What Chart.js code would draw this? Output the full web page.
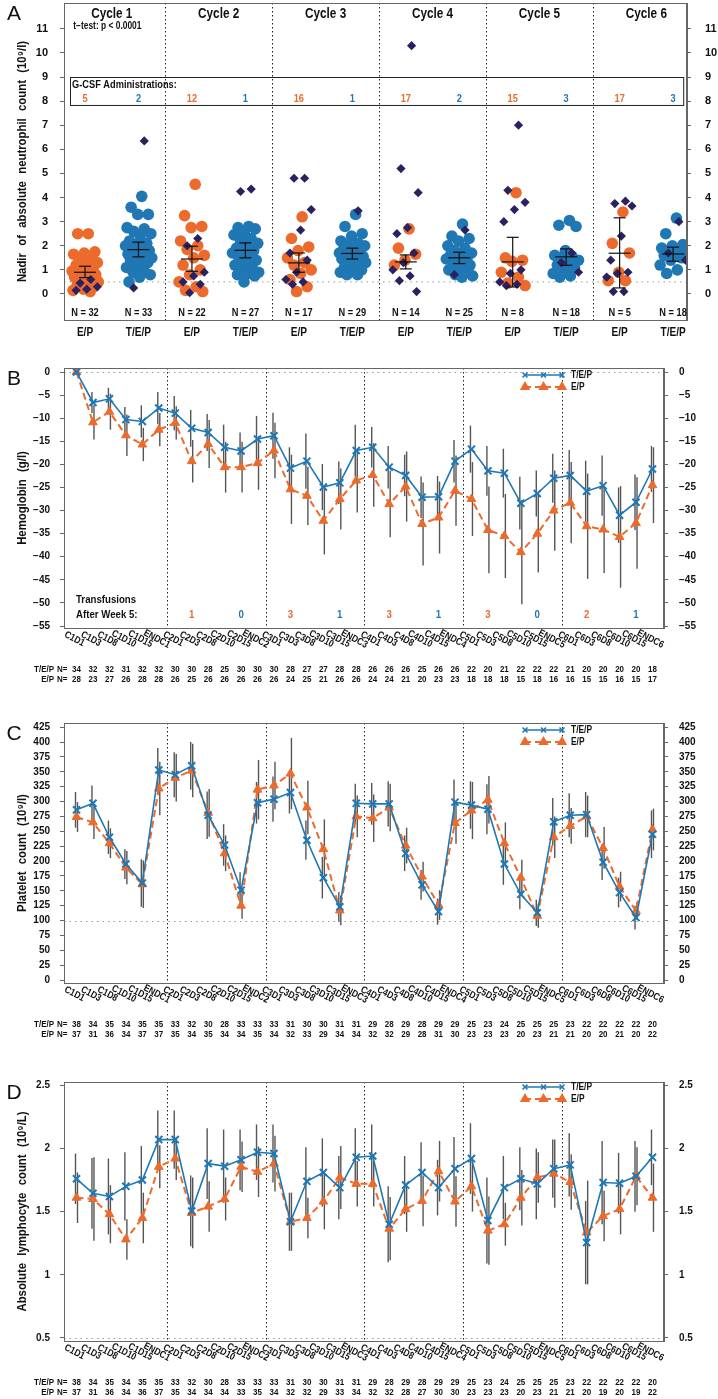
<!DOCTYPE html>
<html>
<head>
<meta charset="utf-8">
<script src="https://cdn.jsdelivr.net/npm/chart.js@4.4.0/dist/chart.umd.min.js"></script>
<style>
  body { margin: 0; background: #fff; width: 718px; height: 1399px; position: relative; overflow: hidden; }
  canvas { position: absolute; left: 0; }
</style>
</head>
<body>
<canvas id="panelA" width="718" height="345" style="top:0px"></canvas>
<canvas id="panelB" width="718" height="345" style="top:345px"></canvas>
<canvas id="panelC" width="718" height="355" style="top:690px"></canvas>
<canvas id="panelD" width="718" height="354" style="top:1045px"></canvas>
<script>
// ---------- panel A: neutrophil nadir ----------
const cycleLabels = ['Cycle 1', 'Cycle 2', 'Cycle 3', 'Cycle 4', 'Cycle 5', 'Cycle 6'];
const groupLabels = ['E/P', 'T/E/P', 'E/P', 'T/E/P', 'E/P', 'T/E/P', 'E/P', 'T/E/P', 'E/P', 'T/E/P', 'E/P', 'T/E/P'];
const groupN = [32, 33, 22, 27, 17, 29, 14, 25, 8, 18, 5, 18];
const gcsfCounts = [5, 2, 12, 1, 16, 1, 17, 2, 15, 3, 17, 3];
const nadirTicks = [0, 1, 2, 3, 4, 5, 6, 7, 8, 9, 10, 11];
const nadirMean = [0.90, 1.84, 1.45, 1.81, 1.29, 1.68, 1.33, 1.50, 1.33, 1.54, 1.69, 1.66];
const nadirLow = [0.68, 1.54, 0.94, 1.50, 0.90, 1.45, 1.04, 1.26, 0.29, 1.19, 0.25, 1.36];
const nadirHigh = [1.15, 2.15, 1.98, 2.12, 1.70, 1.90, 1.62, 1.73, 2.35, 1.87, 3.16, 1.94];
// circles (orange for E/P, blue for T/E/P)
const nadirDots = [
  [2.5, 2.5, 1.75, 1.7, 1.65, 1.55, 1.4, 1.3, 1.25, 1.2, 1.1, 1.0, 0.95, 0.9, 0.85, 0.8, 0.75, 0.7, 0.65, 0.6, 0.5, 0.45, 0.35, 0.3, 0.2, 0.15, 0.1],
  [4.05, 3.6, 3.3, 3.3, 2.75, 2.7, 2.6, 2.5, 2.4, 2.2, 2.1, 2.05, 2.0, 1.9, 1.85, 1.8, 1.7, 1.65, 1.6, 1.55, 1.5, 1.45, 1.4, 1.3, 1.2, 1.1, 1.0, 0.9, 0.8, 0.7, 0.5],
  [4.55, 3.25, 2.8, 2.75, 2.2, 2.0, 1.85, 1.6, 1.5, 1.2, 1.0, 0.8, 0.5, 0.3, 0.15, 0.1],
  [2.8, 2.75, 2.7, 2.5, 2.45, 2.3, 2.2, 2.1, 2.0, 1.9, 1.8, 1.75, 1.7, 1.6, 1.5, 1.4, 1.3, 1.2, 1.1, 1.0, 0.9, 0.85, 0.8, 0.75, 0.5],
  [3.2, 2.3, 1.95, 1.8, 1.5, 1.3, 1.2, 1.0, 0.85, 0.6, 0.3, 0.1],
  [3.3, 2.8, 2.5, 2.4, 2.2, 2.1, 2.05, 2.0, 1.9, 1.85, 1.8, 1.75, 1.7, 1.65, 1.6, 1.55, 1.5, 1.45, 1.4, 1.35, 1.3, 1.2, 1.1, 1.0, 0.95, 0.9, 0.8, 0.8],
  [2.7, 1.9, 1.65, 1.4, 1.2],
  [2.9, 2.4, 2.3, 2.2, 2.0, 1.9, 1.8, 1.7, 1.65, 1.6, 1.55, 1.5, 1.45, 1.4, 1.3, 1.2, 1.1, 1.0, 0.9, 0.8, 0.75, 0.7],
  [4.2, 1.5, 1.4, 1.35, 0.9, 0.7, 0.45, 0.35],
  [3.05, 2.85, 2.8, 1.8, 1.6, 1.55, 1.5, 1.4, 1.3, 1.2, 1.1, 1.0, 0.85, 0.75, 0.7],
  [3.4, 2.1, 1.7, 0.9, 0.55, 0.55],
  [3.15, 2.5, 2.05, 2.0, 1.9, 1.85, 1.8, 1.75, 1.7, 1.6, 1.5, 1.4, 1.2, 1.0, 0.85]
];
// dark diamonds
const nadirDiamonds = [
  [0.6, 0.45, 0.3, 0.2, 0.15],
  [6.35, 0.25],
  [2.3, 2.0, 0.9, 0.75, 0.5, 0.4, 0.05],
  [4.35, 4.25],
  [4.8, 4.8, 3.5, 2.65, 1.7, 1.4, 0.9, 0.6, 0.5, 0.4],
  [3.45],
  [10.3, 5.2, 4.2, 2.75, 2.5, 1.7, 1.3, 1.0, 0.75, 0.55, 0.1],
  [2.65, 0.8],
  [7.0, 4.3, 3.8, 3.5, 3.0, 1.0, 0.85, 0.5, 0.4, 0.35],
  [1.7, 1.3, 0.9],
  [3.85, 3.75, 3.65, 2.4, 1.4, 0.9, 0.85, 0.7, 0.1, 0.1],
  [3.0, 1.7, 1.4]
];

// ---------- panels B, C, D ----------
const visitLabels = [];
for (let c = 1; c <= 6; c++) {
  ['D1', 'D3', 'D8', 'D10', 'D15'].forEach(d => visitLabels.push('C' + c + d));
  visitLabels.push('ENDC' + c);
}

const hbTicks = [0, -5, -10, -15, -20, -25, -30, -35, -40, -45, -50, -55];
const hbTep = [0, -6.6, -5.8, -10.3, -10.7, -7.8, -8.9, -12.2, -13.1, -16.3, -17.1, -14.5, -13.8, -20.8, -19.3, -24.9, -24.0, -17.0,
  -16.3, -20.6, -22.4, -27.1, -27.0, -19.3, -16.7, -21.4, -21.9, -28.4, -26.3, -23.0, -22.4, -25.8, -24.6, -31.0, -28.2, -21.0];
const hbEp = [0, -10.9, -8.6, -13.7, -15.7, -12.5, -11.0, -19.3, -15.6, -20.6, -20.6, -19.7, -17.0, -25.4, -26.8, -32.2, -27.5, -23.5,
  -22.3, -28.6, -24.8, -32.9, -31.5, -25.7, -27.5, -34.2, -35.5, -39.0, -35.0, -30.0, -28.3, -33.4, -34.1, -35.7, -32.7, -24.5];
const hbTepErr = [0, 2.3, 2.4, 2.7, 3.5, 3.5, 3.7, 4, 4, 4.9, 4, 5, 5, 4.5, 6, 5, 4.6, 5.6,
  4.4, 4.6, 4.5, 4.5, 4.5, 4.6, 5.1, 5.4, 5.3, 5.7, 5.0, 5.3, 5.5, 6.6, 6.5, 6, 6, 5];
const hbEpErr = [0, 3.7, 3.9, 4.5, 3.6, 3.6, 3.6, 4.6, 5.2, 5.5, 5.5, 5.8, 6, 7.5, 6.3, 7.3, 6.6, 6.9,
  6.9, 7.2, 7.6, 9, 7.8, 7.6, 8, 9.4, 9.1, 11.3, 8.4, 8.7, 8.8, 11.4, 9.4, 11, 9.9, 8.2];
const hbNTep = [34, 32, 32, 31, 32, 32, 30, 30, 28, 25, 30, 30, 30, 28, 27, 27, 28, 28, 26, 26, 26, 25, 26, 26, 22, 20, 21, 22, 22, 22, 21, 20, 20, 20, 20, 18];
const hbNEp = [28, 23, 27, 26, 28, 28, 26, 25, 26, 26, 26, 26, 26, 24, 25, 21, 26, 26, 24, 24, 21, 20, 23, 23, 18, 18, 18, 15, 18, 16, 16, 15, 15, 16, 15, 17];
const transfusionsEp = [null, 1, 3, 3, 3, 2];
const transfusionsTep = [null, 0, 1, 1, 0, 1];

const pltTicks = [0, 25, 50, 75, 100, 125, 150, 175, 200, 225, 250, 275, 300, 325, 350, 375, 400, 425];
const pltTep = [286, 297, 240, 195, 163, 353, 345, 360, 277, 227, 151, 298, 304, 315, 235, 172, 123, 297,
  296, 296, 213, 160, 115, 299, 294, 287, 195, 144, 113, 266, 277, 278, 198, 147, 105, 245];
const pltEp = [274, 265, 230, 189, 161, 322, 340, 352, 281, 213, 125, 320, 327, 347, 290, 220, 117, 275,
  272, 290, 226, 174, 126, 264, 285, 303, 230, 172, 108, 240, 259, 275, 222, 157, 116, 253];
const pltTepErr = [30, 30, 28, 25, 40, 37, 38, 40, 40, 35, 30, 35, 38, 35, 33, 35, 25, 33,
  35, 38, 30, 25, 22, 38, 40, 42, 35, 25, 22, 40, 37, 38, 30, 25, 20, 40];
const pltEpErr = [25, 28, 25, 28, 40, 45, 40, 45, 40, 30, 22, 50, 40, 60, 45, 50, 25, 35,
  40, 40, 30, 25, 25, 35, 48, 40, 35, 30, 20, 35, 30, 35, 35, 25, 15, 35];
const pltNTep = [38, 34, 35, 34, 35, 35, 33, 32, 30, 28, 33, 33, 33, 31, 30, 30, 31, 31, 29, 28, 29, 28, 29, 29, 25, 23, 24, 25, 25, 25, 23, 22, 22, 22, 22, 20];
const pltNEp = [37, 31, 36, 34, 37, 37, 35, 34, 35, 34, 34, 35, 34, 32, 33, 29, 34, 34, 32, 32, 29, 28, 31, 30, 23, 23, 23, 20, 23, 21, 21, 20, 20, 21, 20, 22];

const lymTicks = [0.5, 1, 1.5, 2, 2.5];
const lymTep = [1.76, 1.645, 1.62, 1.70, 1.75, 2.07, 2.07, 1.505, 1.88, 1.86, 1.91, 1.97, 1.96, 1.42, 1.74, 1.81, 1.69, 1.93,
  1.94, 1.40, 1.71, 1.81, 1.69, 1.84, 1.92, 1.43, 1.69, 1.76, 1.72, 1.84, 1.87, 1.255, 1.73, 1.725, 1.78, 1.93];
const lymEp = [1.61, 1.60, 1.48, 1.28, 1.45, 1.855, 1.92, 1.49, 1.54, 1.60, 1.855, 1.815, 1.88, 1.42, 1.45, 1.58, 1.77, 1.72,
  1.72, 1.365, 1.52, 1.585, 1.82, 1.58, 1.70, 1.35, 1.40, 1.61, 1.77, 1.80, 1.735, 1.335, 1.465, 1.52, 1.78, 1.61];
const lymTepErr = [0.2, 0.28, 0.3, 0.27, 0.27, 0.23, 0.23, 0.28, 0.28, 0.29, 0.24, 0.22, 0.23, 0.23, 0.27, 0.27, 0.25, 0.23,
  0.25, 0.3, 0.23, 0.24, 0.22, 0.25, 0.28, 0.34, 0.25, 0.25, 0.28, 0.23, 0.25, 0.33, 0.33, 0.24, 0.28, 0.22];
const lymEpErr = [0.2, 0.33, 0.23, 0.16, 0.2, 0.17, 0.17, 0.28, 0.2, 0.17, 0.2, 0.2, 0.22, 0.23, 0.16, 0.22, 0.25, 0.18,
  0.18, 0.25, 0.18, 0.2, 0.24, 0.2, 0.2, 0.27, 0.17, 0.22, 0.2, 0.27, 0.22, 0.41, 0.2, 0.2, 0.23, 0.27];
const lymNTep = [38, 34, 35, 34, 35, 35, 33, 32, 30, 28, 33, 33, 33, 31, 30, 30, 31, 31, 29, 28, 29, 28, 29, 29, 25, 23, 24, 25, 25, 25, 23, 22, 22, 22, 22, 20];
const lymNEp = [37, 31, 36, 34, 36, 37, 35, 34, 34, 34, 33, 35, 34, 32, 32, 29, 33, 34, 32, 32, 28, 27, 30, 30, 23, 23, 23, 20, 23, 21, 21, 20, 19, 20, 19, 22];

// ---------- look ----------
const ORANGE = '#ec6a2c';
const BLUE = '#1f77b4';
const NAVY = '#2a2160';
const BAR = '#555';
const FRAME = '#666';

// narrow font if we have it, otherwise squeeze the regular one
const FAMILY = (() => {
  const c = document.createElement('canvas').getContext('2d');
  c.font = 'bold 40px monospace';
  const a = c.measureText('ABCDEFGHabcdefgh').width;
  c.font = "bold 40px 'Liberation Sans Narrow', monospace";
  const b = c.measureText('ABCDEFGHabcdefgh').width;
  return a !== b ? "'Liberation Sans Narrow', sans-serif" : "'Liberation Sans', Arial, sans-serif";
})();
const SX = FAMILY.includes('Narrow') ? 1 : 0.84;

function text(ctx, str, x, y, o = {}) {
  ctx.save();
  ctx.translate(x, y);
  if (o.rot) ctx.rotate(o.rot);
  ctx.scale(o.sx || SX, 1);
  ctx.font = (o.bold === false ? '' : 'bold ') + (o.size || 10) + 'px ' + (o.family || FAMILY);
  if (o.ws) ctx.wordSpacing = o.ws + 'px';
  ctx.fillStyle = o.color || '#111';
  ctx.textAlign = o.align || 'center';
  ctx.textBaseline = o.base || 'middle';
  ctx.fillText(str, 0, 0);
  ctx.restore();
}

function seg(ctx, x1, y1, x2, y2) {
  ctx.beginPath();
  ctx.moveTo(x1, y1);
  ctx.lineTo(x2, y2);
  ctx.stroke();
}

function yAxis(pos, min, max, ticks, width, size, pad, fmt) {
  return {
    position: pos,
    min: min,
    max: max,
    afterBuildTicks: s => { s.ticks = ticks.map(v => ({ value: v })); },
    // fixed width, and no extra room for the end labels: the plot box is set by layout padding
    afterFit: s => { s.width = width; s.paddingTop = 0; s.paddingBottom = 0; },
    grid: { display: true, drawOnChartArea: false, drawTicks: true, tickLength: 4, color: FRAME },
    border: { display: true, color: FRAME },
    ticks: {
      color: '#111', padding: pad,
      font: { family: FAMILY, size: size, weight: 'bold' },
      callback: v => fmt ? fmt(v) : String(v)
    }
  };
}

function frame(ctx, a) {
  ctx.save();
  ctx.strokeStyle = FRAME;
  ctx.lineWidth = 1;
  ctx.strokeRect(a.left + 0.5, a.top + 0.5, a.right - a.left - 1, a.bottom - a.top);
  ctx.restore();
}

function sideTitle(ctx, a, str, letter) {
  text(ctx, str, 22, (a.top + a.bottom) / 2, { rot: -Math.PI / 2, size: 13.5, ws: 5 });
  text(ctx, letter, 14, a.top + 1, { size: 21, bold: false, base: 'top', sx: 1, family: "'Liberation Sans', Arial, sans-serif" });
}

// deterministic spread of the dots around each group centre
const spread = k => (((k + 1) * 0.6180339887) % 1 - 0.5) * 0.52;
const dotData = (groups, keep, shift) => groups.flatMap((vals, g) =>
  keep(g) ? vals.map((v, k) => ({ x: g + spread(k + shift), y: v })) : []);

// ---------- panel A ----------
new Chart(document.getElementById('panelA'), {
  type: 'scatter',
  data: {
    datasets: [
      { data: dotData(nadirDiamonds, () => true, 5), pointStyle: 'rectRot', pointRadius: 4.6, backgroundColor: NAVY, borderColor: NAVY, borderWidth: 0, order: 0 },
      { data: dotData(nadirDots, g => g % 2 === 0, 0), pointStyle: 'circle', pointRadius: 5.8, backgroundColor: ORANGE, borderColor: ORANGE, borderWidth: 0, order: 1 },
      { data: dotData(nadirDots, g => g % 2 === 1, 0), pointStyle: 'circle', pointRadius: 5.8, backgroundColor: BLUE, borderColor: BLUE, borderWidth: 0, order: 1 }
    ]
  },
  options: {
    responsive: false, animation: false, devicePixelRatio: 1,
    layout: { autoPadding: false, padding: { top: 3, bottom: 25, left: 0, right: 0 } },
    plugins: { legend: { display: false }, tooltip: { enabled: false } },
    scales: {
      x: { type: 'linear', min: -0.393, max: 11.26, display: false },
      y: yAxis('left', -1.08, 12.07, nadirTicks, 64, 11, 12),
      y2: yAxis('right', -1.08, 12.07, nadirTicks, 31, 11, 14)
    }
  },
  plugins: [{
    id: 'nadirDeco',
    beforeDatasetsDraw(chart) {
      const { ctx, chartArea: a, scales: { x, y } } = chart;
      ctx.save();
      ctx.lineWidth = 1;
      ctx.strokeStyle = '#999';
      ctx.setLineDash([1.5, 4]);
      seg(ctx, a.left, y.getPixelForValue(0.5), a.right, y.getPixelForValue(0.5));
      ctx.strokeStyle = '#222';
      ctx.setLineDash([1.5, 2.5]);
      for (let c = 1; c < cycleLabels.length; c++) {
        const xx = Math.round(x.getPixelForValue(2 * c - 0.5)) + 0.5;
        seg(ctx, xx, a.top, xx, a.bottom);
      }
      ctx.setLineDash([]);
      ctx.strokeStyle = '#222';
      const bx1 = x.getPixelForValue(-0.28), bx2 = x.getPixelForValue(11.19);
      const by1 = y.getPixelForValue(9.0), by2 = y.getPixelForValue(7.84);
      ctx.strokeRect(Math.round(bx1) + 0.5, Math.round(by1) + 0.5, bx2 - bx1, by2 - by1);
      ctx.restore();
      text(ctx, 'G-CSF Administrations:', bx1 + 2, by1 + 8, { size: 11, align: 'left' });
      gcsfCounts.forEach((n, g) => text(ctx, String(n), x.getPixelForValue(g), by1 + 22,
        { size: 11, color: g % 2 === 0 ? ORANGE : BLUE }));
    },
    afterDatasetsDraw(chart) {
      const { ctx, scales: { x, y } } = chart;
      ctx.save();
      ctx.strokeStyle = '#111';
      ctx.lineWidth = 1.2;
      nadirMean.forEach((m, g) => {
        const xx = x.getPixelForValue(g);
        const yl = y.getPixelForValue(nadirLow[g]), yh = y.getPixelForValue(nadirHigh[g]), ym = y.getPixelForValue(m);
        seg(ctx, xx, yl, xx, yh);
        seg(ctx, xx - 6, yl, xx + 6, yl);
        seg(ctx, xx - 6, yh, xx + 6, yh);
        seg(ctx, xx - 11, ym, xx + 11, ym);
      });
      ctx.restore();
    },
    afterDraw(chart) {
      const { ctx, chartArea: a, scales: { x } } = chart;
      frame(ctx, a);
      cycleLabels.forEach((c, i) => text(ctx, c, x.getPixelForValue(2 * i + 0.5), a.top + 11, { size: 14 }));
      text(ctx, 't\u2212test: p < 0.0001', x.getPixelForValue(-0.22), a.top + 23, { size: 10, align: 'left' });
      groupLabels.forEach((g, i) => {
        text(ctx, 'N = ' + groupN[i], x.getPixelForValue(i), a.bottom - 7, { size: 11 });
        text(ctx, g, x.getPixelForValue(i), a.bottom + 13, { size: 12 });
      });
      sideTitle(ctx, a, 'Nadir of absolute neutrophil count (10\u2079/l)', 'A');
    }
  }]
});

// ---------- panels B, C, D ----------
function linePanel(id, o) {
  const fmt = v => String(v).replace('-', '\u2212');
  new Chart(document.getElementById(id), {
    type: 'line',
    data: {
      datasets: [
        {
          label: 'T/E/P', data: o.tep.map((v, i) => ({ x: i, y: v })), order: 0,
          borderColor: BLUE, borderWidth: 1.6, tension: 0, fill: false,
          pointStyle: 'crossRot', pointRadius: 5, pointBorderWidth: 2, pointBorderColor: BLUE, pointBackgroundColor: BLUE
        },
        {
          label: 'E/P', data: o.ep.map((v, i) => ({ x: i, y: v })), order: 1,
          borderColor: ORANGE, borderWidth: 2, borderDash: [7, 4], tension: 0, fill: false,
          pointStyle: 'triangle', pointRadius: 5, pointBorderWidth: 1, pointBorderColor: ORANGE, pointBackgroundColor: ORANGE
        }
      ]
    },
    options: {
      responsive: false, animation: false, devicePixelRatio: 1,
      layout: { autoPadding: false, padding: { top: o.top, bottom: o.bottom, left: 0, right: 0 } },
      plugins: { legend: { display: false }, tooltip: { enabled: false } },
      scales: {
        x: { type: 'linear', min: -0.76, max: 35.7, display: false },
        y: yAxis('left', o.min, o.max, o.ticks, 64, 10, 10, fmt),
        y2: yAxis('right', o.min, o.max, o.ticks, 54, 10, 11, fmt)
      }
    },
    plugins: [{
      id: id + 'Deco',
      beforeDatasetsDraw(chart) {
        const { ctx, chartArea: a, scales: { x, y } } = chart;
        ctx.save();
        ctx.lineWidth = 1;
        ctx.strokeStyle = '#999';
        ctx.setLineDash([1.5, 4]);
        const ry = Math.round(y.getPixelForValue(o.ref)) + 0.5;
        seg(ctx, a.left, ry, a.right, ry);
        ctx.strokeStyle = '#222';
        ctx.setLineDash([1.5, 2.5]);
        for (let c = 1; c < 6; c++) {
          const xx = Math.round(x.getPixelForValue(6 * c - 0.5)) + 0.5;
          seg(ctx, xx, a.top, xx, a.bottom);
        }
        ctx.setLineDash([]);
        ctx.strokeStyle = BAR;
        ctx.lineWidth = 1.4;
        [[o.tep, o.tepErr, -1], [o.ep, o.epErr, 1]].forEach(([vals, errs, s]) => vals.forEach((m, i) => {
          if (!errs[i]) return;
          const xx = x.getPixelForValue(i) + s;
          seg(ctx, xx, y.getPixelForValue(m - errs[i]), xx, y.getPixelForValue(m + errs[i]));
        }));
        ctx.restore();
        if (o.extra) o.extra(chart);
      },
      afterDraw(chart) {
        const { ctx, chartArea: a, scales: { x } } = chart;
        frame(ctx, a);
        // legend
        const lx1 = a.right - 139, lx2 = a.right - 102, lm = (lx1 + lx2) / 2;
        const ly1 = a.top + o.legendY, ly2 = ly1 + 12;
        ctx.save();
        ctx.strokeStyle = BLUE; ctx.fillStyle = BLUE; ctx.lineWidth = 1.6;
        seg(ctx, lx1, ly1, lx2, ly1);
        [lx1, lm, lx2].forEach(px => Chart.helpers.drawPoint(ctx, { pointStyle: 'crossRot', radius: 3.5, borderWidth: 1.6 }, px, ly1));
        ctx.strokeStyle = ORANGE; ctx.fillStyle = ORANGE; ctx.lineWidth = 2;
        ctx.setLineDash([6, 4]);
        seg(ctx, lx1, ly2, lx2, ly2);
        ctx.setLineDash([]);
        [lx1, lm, lx2].forEach(px => Chart.helpers.drawPoint(ctx, { pointStyle: 'triangle', radius: 4, borderWidth: 1 }, px, ly2));
        ctx.restore();
        text(ctx, 'T/E/P', lx2 + 9, ly1, { size: 10, align: 'left' });
        text(ctx, 'E/P', lx2 + 9, ly2, { size: 10, align: 'left' });
        // visit labels and numbers at risk
        visitLabels.forEach((v, i) => {
          const xx = x.getPixelForValue(i);
          text(ctx, v, xx - 2, a.bottom + 11, { size: 10, rot: Math.PI / 6.5 });
          text(ctx, String(o.nTep[i]), xx, a.bottom + 41, { size: 9.5 });
          text(ctx, String(o.nEp[i]), xx, a.bottom + 51.5, { size: 9.5 });
        });
        text(ctx, 'T/E/P', 54, a.bottom + 41, { size: 9.5, align: 'right' });
        text(ctx, 'E/P', 54, a.bottom + 51.5, { size: 9.5, align: 'right' });
        text(ctx, 'N=', 57, a.bottom + 41, { size: 9.5, align: 'left' });
        text(ctx, 'N=', 57, a.bottom + 51.5, { size: 9.5, align: 'left' });
        sideTitle(ctx, a, o.title, o.letter);
      }
    }]
  });
}

linePanel('panelB', {
  tep: hbTep, ep: hbEp, tepErr: hbTepErr, epErr: hbEpErr, nTep: hbNTep, nEp: hbNEp,
  ticks: hbTicks, min: -55.43, max: 0.87, ref: 0, top: 23, bottom: 62, legendY: 7,
  title: 'Hemoglobin (g/l)', letter: 'B',
  extra(chart) {
    const { ctx, chartArea: a, scales: { x, y } } = chart;
    text(ctx, 'Transfusions', a.left + 12, y.getPixelForValue(-49.4), { size: 11.5, align: 'left' });
    text(ctx, 'After Week 5:', a.left + 12, y.getPixelForValue(-52.6), { size: 11.5, align: 'left' });
    for (let c = 1; c < 6; c++) {
      text(ctx, String(transfusionsEp[c]), x.getPixelForValue(6 * c + 1), y.getPixelForValue(-52.6), { size: 11.5, color: ORANGE });
      text(ctx, String(transfusionsTep[c]), x.getPixelForValue(6 * c + 4), y.getPixelForValue(-52.6), { size: 11.5, color: BLUE });
    }
  }
});

linePanel('panelC', {
  tep: pltTep, ep: pltEp, tepErr: pltTepErr, epErr: pltEpErr, nTep: pltNTep, nEp: pltNEp,
  ticks: pltTicks, min: -5, max: 432, ref: 100, top: 33, bottom: 62, legendY: 7,
  title: 'Platelet count (10\u2079/l)', letter: 'C'
});

linePanel('panelD', {
  tep: lymTep, ep: lymEp, tepErr: lymTepErr, epErr: lymEpErr, nTep: lymNTep, nEp: lymNEp,
  ticks: lymTicks, min: 0.476, max: 2.526, ref: 0.5, top: 37, bottom: 58, legendY: 5,
  title: 'Absolute lymphocyte count (10\u2079/L)', letter: 'D'
});
</script>
</body>
</html>
